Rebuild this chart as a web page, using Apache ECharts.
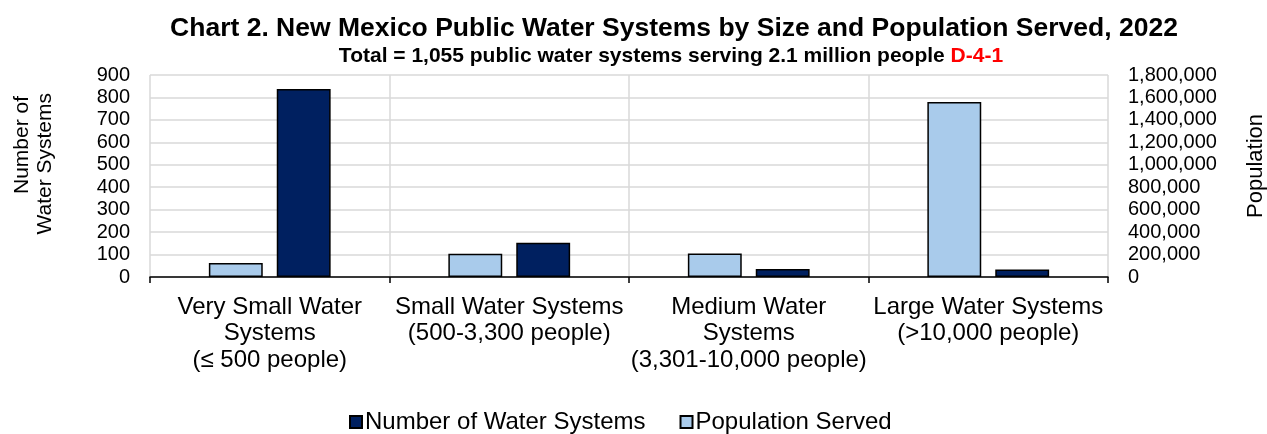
<!DOCTYPE html>
<html><head><meta charset="utf-8">
<script src="https://cdn.jsdelivr.net/npm/echarts@6/dist/echarts.min.js"></script>
<style>html,body{margin:0;padding:0;background:#fff}#c{width:1267px;height:434px}</style>
</head><body><div id="c"></div>
<script>
const categories = [
  "Very Small Water\nSystems\n(≤ 500 people)",
  "Small Water Systems\n(500-3,300 people)",
  "Medium Water\nSystems\n(3,301-10,000 people)",
  "Large Water Systems\n(>10,000 people)"
];
const numberOfSystems = [838, 153, 36, 33];
const populationServed = [125000, 208000, 210000, 1560000];
const leftTicks = {min: 0, max: 900, interval: 100};
const rightTicks = {min: 0, max: 1800000, interval: 200000};
const leftAxisNameLines = ["Number of", "Water Systems"];
const rightAxisName = "Population";

const font = "Arial, 'Liberation Sans', sans-serif";
const chart = echarts.init(document.getElementById('c'), null, {renderer: 'canvas'});
chart.setOption({
  animation: false,
  textStyle: {fontFamily: font},
  title: [{
    text: "Chart 2. New Mexico Public Water Systems by Size and Population Served, 2022",
    left: 669, top: 10, textAlign: 'center',
    textStyle: {fontFamily: font, fontSize: 26.5, fontWeight: 'bold', color: '#000'}
  }, {
    text: "{b|Total = 1,055 public water systems serving 2.1 million people }{r|D-4-1}",
    left: 666, top: 41, textAlign: 'center',
    textStyle: {rich: {
      b: {fontFamily: font, fontSize: 21, fontWeight: 'bold', color: '#000'},
      r: {fontFamily: font, fontSize: 21, color: '#ff0000'}
    }}
  }],
  legend: {
    data: ["Number of Water Systems", "Population Served"],
    top: 405, left: 344,
    itemWidth: 12, itemHeight: 12, itemGap: 34,
    icon: 'rect',
    textStyle: {fontFamily: font, fontSize: 24, color: '#000', padding: [0,0,0,-2]}
  },
  graphic: [
    {type: 'text', x: 22, y: 96, rotation: Math.PI / 2,
     style: {text: leftAxisNameLines[0], font: "21px " + font, fill: '#000', align: 'right', verticalAlign: 'middle'}},
    {type: 'text', x: 45, y: 93, rotation: Math.PI / 2,
     style: {text: leftAxisNameLines[1], font: "21px " + font, fill: '#000', align: 'right', verticalAlign: 'middle'}},
    {type: 'text', x: 1256, y: 166, rotation: Math.PI / 2,
     style: {text: rightAxisName, font: "22px " + font, fill: '#000', align: 'center', verticalAlign: 'middle'}}
  ],
  grid: {left: 150, right: 159, top: 75, bottom: 157, containLabel: false},
  xAxis: {
    type: 'category', data: categories,
    axisLine: {lineStyle: {color: '#000', width: 1.5}},
    axisTick: {show: true, length: 6, lineStyle: {color: '#000', width: 1.5}},
    splitLine: {show: true, lineStyle: {color: '#d9d9d9', width: 1.5}},
    axisLabel: {fontFamily: font, fontSize: 24, color: '#000', lineHeight: 26.5, margin: 17, interval: 0}
  },
  yAxis: [{
    type: 'value', ...leftTicks,
    axisLine: {show: false}, axisTick: {show: false},
    splitLine: {lineStyle: {color: '#d9d9d9', width: 1.5}},
    axisLabel: {fontFamily: font, fontSize: 20, color: '#000', margin: 20}
  }, {
    type: 'value', ...rightTicks, position: 'right',
    axisLine: {show: false}, axisTick: {show: false},
    splitLine: {show: false},
    axisLabel: {fontFamily: font, fontSize: 20, color: '#000', margin: 20,
      formatter: v => v.toLocaleString('en-US')}
  }],
  series: [{
    name: "Population Served", type: 'bar', yAxisIndex: 1, data: populationServed,
    barWidth: '22.5%', barGap: '26%',
    itemStyle: {color: '#a9cbeb', borderColor: '#000', borderWidth: 1.5}
  }, {
    name: "Number of Water Systems", type: 'bar', yAxisIndex: 0, data: numberOfSystems,
    barWidth: '22.5%', barGap: '26%',
    itemStyle: {color: '#002060', borderColor: '#000', borderWidth: 1.5}
  }]
});
</script></body></html>
